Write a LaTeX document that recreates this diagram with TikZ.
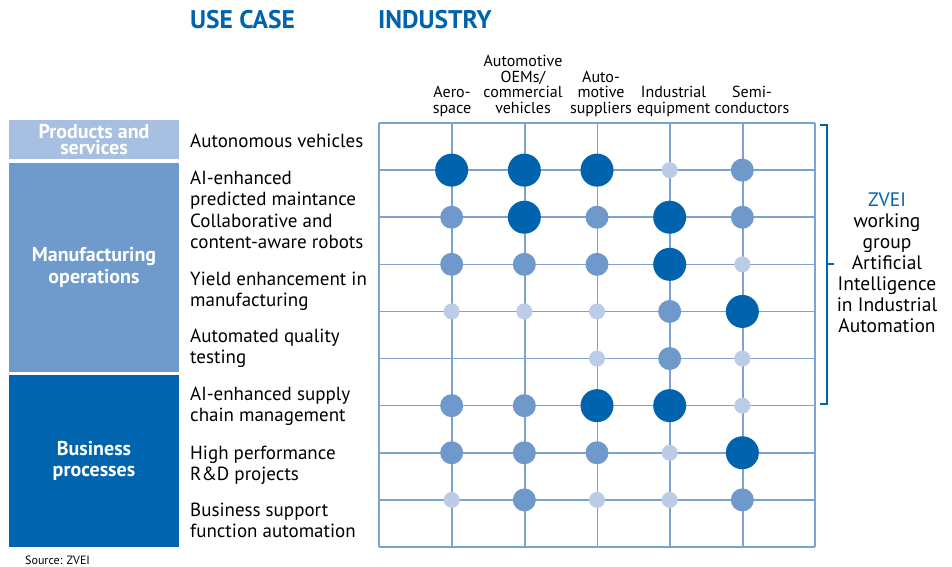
\documentclass[tikz,border=0pt]{standalone}
\usepackage{fontspec}
\setmainfont{PT Sans}
\definecolor{dkblue}{RGB}{0,99,174}
\definecolor{mdblue}{RGB}{112,153,203}
\definecolor{ltblue}{RGB}{188,204,230}
\definecolor{gridblue}{RGB}{124,162,210}
\definecolor{boxlight}{RGB}{167,191,224}
\definecolor{boxmid}{RGB}{111,154,204}
\definecolor{boxdark}{RGB}{0,100,175}
\begin{document}
\begin{tikzpicture}[x=1pt,y=-1pt,
  big/.style={circle,fill=dkblue,inner sep=0,minimum size=33pt},
  mid/.style={circle,fill=mdblue,inner sep=0,minimum size=23pt},
  sml/.style={circle,fill=ltblue,inner sep=0,minimum size=16pt},
  gridline/.style={draw=gridblue,line width=1.6pt},
  usecase/.style={anchor=base west,inner sep=0,align=left,font=\fontsize{19}{21}\selectfont},
  colhead/.style={anchor=base,inner sep=0,align=center,font=\fontsize{16}{15.5}\selectfont},
  catbox/.style={inner sep=0,align=center,text=white,font=\bfseries\fontsize{20}{21.5}\selectfont,minimum width=170pt},
  title/.style={anchor=base west,inner sep=0,text=dkblue,font=\bfseries\fontsize{25.5}{25.5}\selectfont}
]
\useasboundingbox (0,0) rectangle (952,566);
\fill[white] (0,0) rectangle (952,566);

% titles
\node[title] (tuse) at (190,28) {USE CASE};
\node[title] (tind) at (378,28) {INDUSTRY};

% column headers (anchor = baseline of last line)
\node[colhead] (h1) at (452,113) {Aero-\\space};
\node[colhead] (h2) at (523,113) {Automotive\\OEMs/\\commercial\\vehicles};
\node[colhead] (h3) at (601,113) {Auto-\\motive\\suppliers};
\node[colhead] (h4) at (673.5,113) {Industrial\\equipment};
\node[colhead] (h5) at (752,113) {Semi-\\conductors};

% category boxes
\node[catbox,fill=boxlight,minimum height=39pt,font=\bfseries\fontsize{20}{16}\selectfont] (cps) at (94,139.5) {Products and\\services};
\node[catbox,fill=boxmid,minimum height=209pt] (cmo) at (94,267.5) {Manufacturing\\operations};
\node[catbox,fill=boxdark,minimum height=172pt] (cbp) at (94,461) {Business\\processes};

% use cases (anchor = baseline of last line)
\node[usecase] (u1) at (190,147.5) {Autonomous vehicles};
\node[usecase] (u2) at (190,205.5) {AI-enhanced\\predicted maintance};
\node[usecase] (u3) at (190,248.5) {Collaborative and\\content-aware robots};
\node[usecase] (u4) at (190,306.5) {Yield enhancement in\\manufacturing};
\node[usecase] (u5) at (190,363.5) {Automated quality\\testing};
\node[usecase] (u6) at (190,421.5) {AI-enhanced supply\\chain management};
\node[usecase] (u7) at (190,480.5) {High performance\\R\&D projects};
\node[usecase] (u8) at (190,537.5) {Business support\\function automation};

% grid
\foreach \x in {379,452,524.7,597.4,670,742.7,815}
  \draw[gridline] (\x,123) -- (\x,547);
\foreach \k in {0,...,9}
  \draw[gridline] (379,123+47.11*\k) -- (815,123+47.11*\k);

% dots
\def\tmpnone{none}
\foreach \r/\row in {1/{big,big,big,sml,mid},
                     2/{mid,big,mid,big,mid},
                     3/{mid,mid,mid,big,sml},
                     4/{sml,sml,sml,mid,big},
                     5/{none,none,sml,mid,sml},
                     6/{mid,mid,big,big,sml},
                     7/{mid,mid,mid,sml,big},
                     8/{sml,mid,sml,sml,mid}}{
  \foreach \s [count=\c] in \row {
    \pgfmathsetmacro{\xx}{379+72.67*\c}
    \pgfmathsetmacro{\yy}{123+47.11*\r}
    \ifx\s\tmpnone\else
      \node[\s] (d\r-\c) at (\xx,\yy) {};
    \fi
  }
}

% bracket
\draw[dkblue,line width=2pt] (820,125) -- (827,125) -- (827,404) -- (820,404);
\draw[dkblue,line width=2pt] (827,264) -- (834,264);

% right text (anchor = baseline of last line)
\node[anchor=base,inner sep=0,align=center,font=\fontsize{19.5}{21}\selectfont] (zvei) at (887,332.5)
  {\textcolor{dkblue}{ZVEI}\\working\\group\\Artificial\\Intelligence\\in Industrial\\Automation};

% source
\node[anchor=base west,inner sep=0,font=\fontsize{12}{12}\selectfont] (src) at (25,564) {Source: ZVEI};
\end{tikzpicture}
\end{document}
